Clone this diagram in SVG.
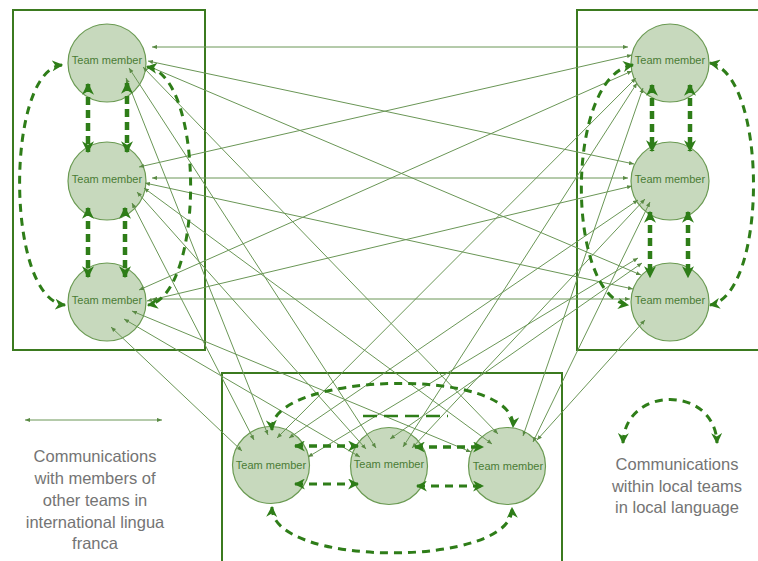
<svg xmlns="http://www.w3.org/2000/svg" width="758" height="561" viewBox="0 0 758 561">
<style>
.box{fill:none;stroke:#3b7a1f;stroke-width:2}
.node circle{fill:#c7d9bd;stroke:#6a9a52;stroke-width:1.2}
.node text{font-family:"Liberation Sans",Arial,sans-serif;font-size:11px;fill:#4a7c35;text-anchor:middle}
.thin{stroke:#6a9656;stroke-width:1;fill:none;marker-start:url(#sa);marker-end:url(#sa)}
.loc{stroke:#2e7d18;stroke-width:3;fill:none;stroke-dasharray:8 6;marker-start:url(#da);marker-end:url(#da)}
.vert{stroke:#2e7d18;stroke-width:4.5;fill:none;stroke-dasharray:8 5;marker-start:url(#db);marker-end:url(#db)}
.legend{font-family:"Liberation Sans",Arial,sans-serif;font-size:16.5px;fill:#747474;text-anchor:middle}
</style>
<defs>
<marker id="sa" viewBox="0 0 6 6" refX="6" refY="3" markerWidth="5" markerHeight="5" markerUnits="userSpaceOnUse" orient="auto-start-reverse"><path d="M0,0.5 L6,3 L0,5.5 z" fill="#5a8a44"/></marker>
<marker id="da" viewBox="0 0 10 10" refX="9" refY="5" markerWidth="11" markerHeight="11" markerUnits="userSpaceOnUse" orient="auto-start-reverse"><path d="M0,0 L10,5 L0,10 L3,5 z" fill="#2e7d18"/></marker>
<marker id="db" viewBox="0 0 10 10" refX="9" refY="5" markerWidth="12" markerHeight="12" markerUnits="userSpaceOnUse" orient="auto-start-reverse"><path d="M0,0 L10,5 L0,10 L3,5 z" fill="#2e7d18"/></marker>
</defs>
<rect width="758" height="561" fill="#ffffff"/>
<g id="teams">
<rect id="team-left" class="box" x="13" y="10" width="192" height="340"/>
<rect id="team-right" class="box" x="577" y="10" width="190" height="340"/>
<rect id="team-bottom" class="box" x="222" y="373" width="340" height="200"/>
</g>
<g id="L1" class="node"><circle cx="107" cy="63" r="39"/><text x="107" y="64">Team member</text></g>
<g id="L2" class="node"><circle cx="107" cy="181" r="39"/><text x="107" y="183">Team member</text></g>
<g id="L3" class="node"><circle cx="107" cy="302" r="39"/><text x="107" y="304">Team member</text></g>
<g id="R1" class="node"><circle cx="670" cy="63" r="39"/><text x="670" y="64">Team member</text></g>
<g id="R2" class="node"><circle cx="670" cy="181" r="39"/><text x="670" y="183">Team member</text></g>
<g id="R3" class="node"><circle cx="670" cy="302" r="39"/><text x="670" y="304">Team member</text></g>
<g id="B1" class="node"><circle cx="271" cy="465" r="38.5"/><text x="271" y="469">Team member</text></g>
<g id="B2" class="node"><circle cx="389" cy="466" r="38.5"/><text x="389" y="468">Team member</text></g>
<g id="B3" class="node"><circle cx="507" cy="466" r="38.5"/><text x="508" y="470">Team member</text></g>
<g id="connectors">
<path class="thin" d="M152,47 L628,47"/>
<path class="thin" d="M148,61 L634,164"/>
<path class="thin" d="M148,66 L641,275"/>
<path class="thin" d="M139,167 L632,55"/>
<path class="thin" d="M152,178 L628,178"/>
<path class="thin" d="M145,183 L633,289"/>
<path class="thin" d="M139,290 L632,71"/>
<path class="thin" d="M147,301 L632,186"/>
<path class="thin" d="M152,299 L630,299"/>
<path class="thin" d="M126,78 L268,435"/>
<path class="thin" d="M129,68 L376,448"/>
<path class="thin" d="M143,67 L498,434"/>
<path class="thin" d="M132,203 L254,440"/>
<path class="thin" d="M137,192 L366,449"/>
<path class="thin" d="M144,188 L492,444"/>
<path class="thin" d="M111,327 L242,451"/>
<path class="thin" d="M124,319 L360,457"/>
<path class="thin" d="M132,311 L471,452"/>
<path class="thin" d="M636,78 L277,438"/>
<path class="thin" d="M637,83 L403,447"/>
<path class="thin" d="M643,88 L523,436"/>
<path class="thin" d="M638,200 L289,438"/>
<path class="thin" d="M645,199 L412,448"/>
<path class="thin" d="M650,202 L533,442"/>
<path class="thin" d="M638,258 L308,457"/>
<path class="thin" d="M642,263 L390,439"/>
<path class="thin" d="M645,320 L537,440"/>
<path class="vert" d="M88,84 L88,152"/>
<path class="vert" d="M127,83 L127,152"/>
<path class="vert" d="M88,208 L88,277"/>
<path class="vert" d="M125,208 L125,277"/>
<path class="vert" d="M652,85 L652,151"/>
<path class="vert" d="M690,85 L690,151"/>
<path class="vert" d="M650,212 L650,277"/>
<path class="vert" d="M688,212 L688,277"/>
<path class="loc" d="M62,65 C5,70 5,300 65,305"/>
<path class="loc" d="M147,67 C205,75 205,295 148,305"/>
<path class="loc" d="M633,65 C565,75 565,295 628,305"/>
<path class="loc" d="M710,63 C768,75 768,295 710,305"/>
<path class="loc" d="M272,430 C268,372 517,365 513,427"/>
<path class="loc" d="M272,507 C270,568 514,568 512,508"/>
<path class="loc" style="stroke-width:3.5" d="M295,446 L358,446"/>
<path class="loc" d="M295,484 L358,484"/>
<path class="loc" style="stroke-width:3.5" d="M415,447 L483,447"/>
<path class="loc" d="M417,486 L483,486"/>
<path d="M363,416 L448,416" stroke="#2e7d18" stroke-width="2.5" stroke-dasharray="14 7" fill="none"/>
</g>
<g id="legend-international">
<path class="thin" d="M25,420 L162,420"/>
<text class="legend" x="95" y="462">Communications</text>
<text class="legend" x="95" y="484">with members of</text>
<text class="legend" x="95" y="506">other teams in</text>
<text class="legend" x="95" y="528">international lingua</text>
<text class="legend" x="95" y="549">franca</text>
</g>
<g id="legend-local">
<path class="loc" d="M623,443 C625,385 715,385 717,443"/>
<text class="legend" x="677" y="470">Communications</text>
<text class="legend" x="677" y="491.5">within local teams</text>
<text class="legend" x="677" y="513">in local language</text>
</g>
</svg>
